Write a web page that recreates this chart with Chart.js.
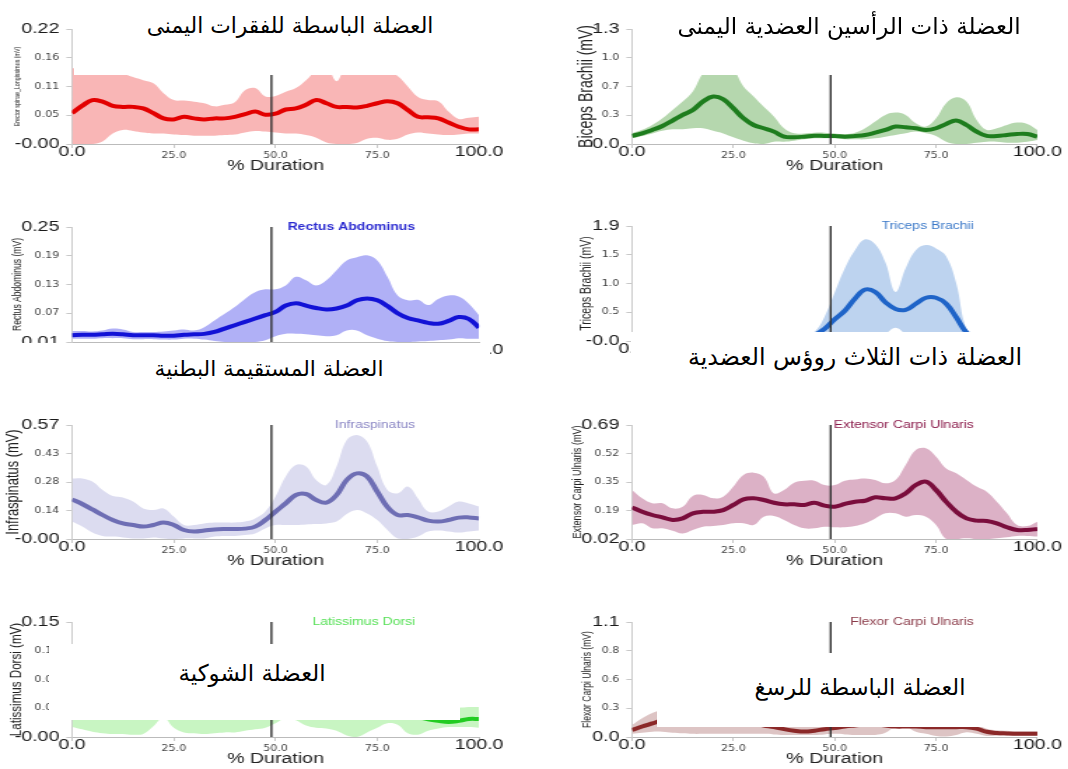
<!DOCTYPE html>
<html>
<head>
<meta charset="utf-8">
<script src="https://cdn.jsdelivr.net/npm/chart.js@4/dist/chart.umd.min.js"></script>
<style>
body{margin:0;background:#fff;width:1068px;height:769px;overflow:hidden;position:relative}
canvas{position:absolute;transform:scaleX(1.4);transform-origin:0 0}
.cover{position:absolute;background:#fff}
.cover span{position:absolute;transform:translate(-50%,-50%);white-space:nowrap;direction:rtl;
  font-family:"DejaVu Sans",sans-serif;font-size:22px;color:#000}
</style>
</head>
<body>
<canvas id="c1"></canvas><canvas id="c2"></canvas>
<canvas id="c3"></canvas><canvas id="c4"></canvas>
<canvas id="c5"></canvas><canvas id="c6"></canvas>
<canvas id="c7"></canvas><canvas id="c8"></canvas>

<div class="cover" style="left:74px;top:0;width:486px;height:75px"><span style="left:216px;top:25px;font-size:21.8px">العضلة الباسطة للفقرات اليمنى</span></div>
<div class="cover" style="left:633px;top:0;width:435px;height:75px"><span style="left:216px;top:26px;font-size:23px">العضلة ذات الرأسين العضدية اليمنى</span></div>
<div class="cover" style="left:0;top:343px;width:490px;height:57px"><span style="left:269px;top:25px;font-size:21.7px">العضلة المستقيمة البطنية</span></div>
<div class="cover" style="left:631px;top:332px;width:437px;height:68px"><span style="left:224px;top:25px;font-size:23.7px">العضلة ذات الثلاث روؤس العضدية</span></div>
<div class="cover" style="left:49px;top:644px;width:411px;height:76px"><span style="left:203px;top:29px;font-size:22.9px">العضلة الشوكية</span></div>
<div class="cover" style="left:657px;top:653px;width:405px;height:74px"><span style="left:203px;top:34px;font-size:22.5px">العضلة الباسطة للرسغ</span></div>

<script>
// % of movement duration
const pct = [0,2.5,5,7.5,10,12.5,15,17.5,20,22.5,25,27.5,30,32.5,35,37.5,40,42.5,45,47.5,50,52.5,55,57.5,60,62.5,65,67.5,70,72.5,75,77.5,80,82.5,85,87.5,90,92.5,95,97.5,100];
const markerPct = 49;
const xTicks = [0,25,50,75,100];
const xLabels = ['0.0','25.0','50.0','75.0','100.0'];

// erector spinae
const erectorMean  = [0.059,0.073,0.084,0.081,0.073,0.071,0.071,0.068,0.059,0.049,0.047,0.052,0.049,0.047,0.049,0.049,0.052,0.057,0.062,0.056,0.058,0.066,0.068,0.075,0.084,0.078,0.071,0.071,0.070,0.073,0.078,0.082,0.078,0.065,0.052,0.051,0.049,0.041,0.033,0.028,0.028];
const erectorUpper = [0.145,0.145,0.145,0.145,0.14,0.135,0.128,0.122,0.116,0.097,0.084,0.083,0.081,0.078,0.072,0.075,0.08,0.103,0.107,0.091,0.092,0.1,0.107,0.122,0.14,0.15,0.12,0.15,0.145,0.14,0.14,0.14,0.13,0.11,0.09,0.084,0.082,0.062,0.048,0.05,0.052];
const erectorLower = [0,0,0,0.005,0.02,0.027,0.025,0.022,0.02,0.02,0.018,0.017,0.016,0.016,0.016,0.017,0.018,0.022,0.025,0.024,0.022,0.02,0.02,0.017,0.012,0.003,0,0,0.002,0.01,0.012,0.008,0.01,0.018,0.022,0.02,0.018,0.017,0.018,0.02,0.02];
const erectorTicks = [0,0.055,0.11,0.165,0.22];
const erectorLabels = ['-0.00','0.05','0.11','0.16','0.22'];

// biceps brachii
const bicepsMean  = [0.091,0.121,0.159,0.204,0.265,0.329,0.385,0.48,0.537,0.506,0.404,0.291,0.215,0.178,0.14,0.083,0.076,0.083,0.094,0.091,0.091,0.083,0.091,0.102,0.128,0.159,0.197,0.189,0.178,0.159,0.178,0.227,0.265,0.215,0.14,0.091,0.091,0.102,0.113,0.113,0.083];
const bicepsUpper = [0.121,0.16,0.215,0.29,0.385,0.48,0.593,0.8,0.9,0.95,0.85,0.65,0.537,0.42,0.31,0.178,0.121,0.12,0.128,0.128,0.12,0.113,0.128,0.178,0.253,0.329,0.355,0.329,0.234,0.197,0.29,0.461,0.529,0.48,0.272,0.159,0.178,0.215,0.242,0.227,0.159];
const bicepsLower = [0.064,0.09,0.12,0.15,0.166,0.166,0.178,0.178,0.15,0.12,0.076,0.038,0.008,0,0.026,0.026,0.038,0.053,0.064,0.064,0.064,0.053,0.053,0.053,0.064,0.083,0.102,0.121,0.14,0.121,0.091,0.026,0,0,0.015,0.026,0.026,0.015,0.015,0.026,0.045];
const bicepsTicks = [0,0.325,0.65,0.975,1.3];
const bicepsLabels = ['0.0','0.3','0.7','1.0','1.3'];

// rectus abdominus
const rectusMean  = [0.024,0.025,0.025,0.026,0.027,0.026,0.024,0.024,0.024,0.023,0.023,0.025,0.026,0.027,0.031,0.038,0.045,0.052,0.059,0.066,0.073,0.086,0.091,0.086,0.081,0.078,0.080,0.086,0.097,0.101,0.097,0.085,0.070,0.060,0.055,0.050,0.048,0.054,0.062,0.058,0.040];
const rectusUpper = [0.033,0.033,0.032,0.034,0.038,0.036,0.031,0.031,0.031,0.032,0.034,0.036,0.034,0.041,0.055,0.069,0.083,0.1,0.114,0.12,0.12,0.128,0.146,0.139,0.128,0.139,0.16,0.18,0.187,0.191,0.18,0.146,0.107,0.097,0.098,0.087,0.1,0.107,0.105,0.09,0.066];
const rectusLower = [0.017,0.017,0.017,0.018,0.018,0.018,0.016,0.016,0.016,0.015,0.015,0.017,0.017,0.015,0.012,0.01,0.01,0.01,0.01,0.0135,0.022,0.027,0.027,0.026,0.024,0.022,0.024,0.034,0.034,0.024,0.017,0.012,0.01,0.01,0.011,0.012,0.0135,0.015,0.018,0.017,0.017];
const rectusTicks = [0.01,0.07,0.13,0.19,0.25];
const rectusLabels = ['0.01','0.07','0.13','0.19','0.25'];

// triceps brachii
const tricepsMean  = [0.02,0.02,0.02,0.02,0.02,0.02,0.02,0.02,0.02,0.02,0.02,0.02,0.02,0.02,0.02,0.02,0.03,0.05,0.1,0.2,0.36,0.5,0.7,0.85,0.81,0.64,0.53,0.515,0.615,0.715,0.715,0.615,0.39,0.144,0.04,0.02,0.02,0.02,0.02,0.02,0.02];
const tricepsUpper = [0.08,0.08,0.08,0.08,0.08,0.08,0.08,0.08,0.08,0.08,0.08,0.08,0.08,0.08,0.08,0.08,0.08,0.1,0.15,0.4,0.8,1.2,1.5,1.68,1.6,1.3,0.81,1.2,1.5,1.585,1.53,1.4,0.95,0.2,0.1,0.08,0.08,0.08,0.08,0.08,0.08];
const tricepsLower = [0,0,0,0,0,0,0,0,0,0,0,0,0,0,0,0,0,0,0,0,0,0,0,0,0.05,0.12,0.22,0.12,0.04,0,0,0,0,0,0,0,0,0,0,0,0];
const tricepsTicks = [0,0.475,0.95,1.425,1.9];
const tricepsLabels = ['-0.0','0.5','1.0','1.5','1.9'];

// infraspinatus
const infraMean  = [0.198,0.175,0.148,0.12,0.095,0.078,0.07,0.062,0.07,0.082,0.07,0.045,0.037,0.042,0.048,0.05,0.05,0.052,0.062,0.095,0.137,0.178,0.22,0.225,0.195,0.182,0.22,0.295,0.328,0.312,0.237,0.16,0.12,0.12,0.108,0.092,0.087,0.095,0.107,0.108,0.103];
const infraUpper = [0.303,0.303,0.287,0.245,0.215,0.208,0.187,0.153,0.145,0.153,0.112,0.07,0.07,0.078,0.082,0.082,0.082,0.087,0.103,0.137,0.212,0.312,0.37,0.362,0.295,0.27,0.362,0.495,0.52,0.487,0.362,0.245,0.228,0.262,0.203,0.137,0.137,0.162,0.187,0.178,0.162];
const infraLower = [0.087,0.062,0.032,0.015,0.012,0.008,0.003,0.003,0.008,0.003,0,0.003,0.003,0.003,0.012,0.015,0.015,0.02,0.028,0.053,0.07,0.07,0.07,0.073,0.075,0.078,0.087,0.125,0.145,0.128,0.095,0.045,0.003,0,0.012,0.037,0.042,0.037,0.032,0.037,0.042];
const infraTicks = [0,0.1425,0.285,0.4275,0.57];
const infraLabels = ['-0.00','0.14','0.28','0.43','0.57'];

// extensor carpi ulnaris
const extensorMean  = [0.206,0.18,0.161,0.147,0.132,0.141,0.171,0.18,0.18,0.19,0.22,0.253,0.259,0.249,0.233,0.224,0.224,0.22,0.233,0.216,0.21,0.226,0.239,0.245,0.265,0.259,0.259,0.288,0.337,0.357,0.308,0.239,0.18,0.141,0.128,0.126,0.112,0.089,0.073,0.073,0.079];
const extensorUpper = [0.308,0.259,0.23,0.23,0.2,0.21,0.273,0.279,0.259,0.269,0.328,0.396,0.41,0.386,0.288,0.308,0.351,0.363,0.363,0.337,0.337,0.363,0.37,0.376,0.367,0.347,0.367,0.455,0.543,0.553,0.504,0.435,0.406,0.367,0.328,0.298,0.239,0.171,0.102,0.096,0.122];
const extensorLower = [0.102,0.112,0.083,0.083,0.069,0.053,0.073,0.092,0.096,0.102,0.112,0.112,0.102,0.151,0.155,0.132,0.102,0.083,0.083,0.092,0.089,0.089,0.096,0.112,0.141,0.171,0.171,0.151,0.161,0.151,0.102,0.02,0.02,0.025,0.02,0.02,0.025,0.03,0.038,0.038,0.034];
const extensorTicks = [0.02,0.1875,0.355,0.5225,0.69];
const extensorLabels = ['0.02','0.19','0.35','0.52','0.69'];

// latissimus dorsi
const latMean  = [0.04,0.042,0.044,0.043,0.04,0.038,0.037,0.038,0.042,0.045,0.04,0.036,0.034,0.035,0.036,0.037,0.038,0.039,0.04,0.04,0.042,0.045,0.044,0.04,0.038,0.036,0.034,0.033,0.032,0.033,0.034,0.033,0.031,0.029,0.026,0.023,0.021,0.0196,0.021,0.0235,0.0235];
const latUpper = [0.065,0.066,0.068,0.066,0.062,0.06,0.058,0.06,0.062,0.066,0.062,0.058,0.056,0.056,0.058,0.06,0.061,0.062,0.063,0.063,0.065,0.068,0.067,0.063,0.06,0.058,0.056,0.055,0.054,0.055,0.056,0.055,0.053,0.05,0.047,0.044,0.04,0.038,0.038,0.039,0.039];
const latLower = [0.013,0.01,0.007,0.005,0.004,0.004,0.003,0.004,0.014,0.025,0.012,0.006,0.005,0.004,0.005,0.006,0.006,0.008,0.01,0.012,0.018,0.024,0.022,0.015,0.012,0.011,0.008,0.002,0,0.006,0.012,0.018,0.016,0.005,0.003,0.008,0.011,0.013,0.013,0.013,0.012];
const latTicks = [0,0.0375,0.075,0.1125,0.15];
const latLabels = ['-0.00','0.04','0.08','0.11','0.15'];

// flexor carpi ulnaris
const flexorMean  = [0.067,0.1,0.13,0.16,0.18,0.2,0.21,0.2,0.19,0.18,0.17,0.15,0.13,0.11,0.095,0.075,0.06,0.052,0.06,0.075,0.085,0.1,0.11,0.12,0.12,0.11,0.1,0.1,0.1,0.094,0.094,0.094,0.094,0.094,0.08,0.05,0.038,0.034,0.031,0.03,0.03];
const flexorUpper = [0.115,0.18,0.23,0.26,0.28,0.3,0.31,0.3,0.29,0.28,0.26,0.24,0.22,0.19,0.16,0.13,0.11,0.1,0.11,0.13,0.15,0.17,0.2,0.22,0.21,0.18,0.16,0.15,0.15,0.15,0.15,0.15,0.15,0.14,0.12,0.08,0.065,0.06,0.055,0.055,0.055];
const flexorLower = [0.03,0.04,0.05,0.05,0.04,0.035,0.03,0.03,0.03,0.03,0.03,0.03,0.03,0.03,0.025,0.02,0.02,0.02,0.02,0.025,0.03,0.025,0.02,0.02,0.02,0.04,0.1,0.1,0.05,0.03,0.01,0.005,0.02,0.045,0.03,0.01,0.012,0.015,0.015,0.015,0.015];
const flexorTicks = [0,0.275,0.55,0.825,1.1];
const flexorLabels = ['0.0','0.3','0.6','0.8','1.1'];

Chart.defaults.font.family = "'Liberation Sans', Arial, sans-serif";
const S = 1.4; // the figure is stretched horizontally
const SANS = "'Liberation Sans', Arial, sans-serif";

const panels = [
  {id:'c1', col:0, top:29,  bottom:144, mean:erectorMean,  upper:erectorUpper,  lower:erectorLower,  ticks:erectorTicks,  labels:erectorLabels,
   line:'#e30000', band:'#f9b6b6', yTitle:'Erector spinae_Longissimus (mV)', yTitleSize:5.3, yTitleX:18},
  {id:'c2', col:1, top:29,  bottom:144, mean:bicepsMean,   upper:bicepsUpper,   lower:bicepsLower,   ticks:bicepsTicks,   labels:bicepsLabels,
   line:'#1e7d1e', band:'#b5d7ae', yTitle:'Biceps Brachii (mV)', yTitleSize:14, yTitleX:27},
  {id:'c3', col:0, top:227, bottom:342, mean:rectusMean,   upper:rectusUpper,   lower:rectusLower,   ticks:rectusTicks,   labels:rectusLabels,
   line:'#1212d6', band:'#b0b0f6', yTitle:'Rectus Abdominus (mV)', yTitleSize:8.6, yTitleX:17,
   name:'Rectus Abdominus', nameColor:'#2a2ad0', nameWeight:'bold'},
  {id:'c4', col:1, top:226, bottom:341, mean:tricepsMean,  upper:tricepsUpper,  lower:tricepsLower,  ticks:tricepsTicks,  labels:tricepsLabels,
   line:'#1f64c8', band:'#bdd3ef', yTitle:'Triceps Brachii (mV)', yTitleSize:10.5, yTitleX:27,
   name:'Triceps Brachii', nameColor:'#3a78c8', nameWeight:'normal'},
  {id:'c5', col:0, top:425, bottom:539, mean:infraMean,    upper:infraUpper,    lower:infraLower,    ticks:infraTicks,    labels:infraLabels,
   line:'#6e6eb4', band:'#dcdcf0', yTitle:'Infraspinatus (mV)', yTitleSize:12.9, yTitleX:13,
   name:'Infraspinatus', nameColor:'#8a86c4', nameWeight:'normal'},
  {id:'c6', col:1, top:425, bottom:539, mean:extensorMean, upper:extensorUpper, lower:extensorLower, ticks:extensorTicks, labels:extensorLabels,
   line:'#7a0d3c', band:'#dcb1c6', yTitle:'Extensor Carpi Ulnaris (mV)', yTitleSize:9.1, yTitleX:18,
   name:'Extensor Carpi Ulnaris', nameColor:'#8a1a4a', nameWeight:'normal'},
  {id:'c7', col:0, top:622, bottom:737, mean:latMean,      upper:latUpper,      lower:latLower,      ticks:latTicks,      labels:latLabels,
   line:'#22cc22', band:'#c8f5c2', yTitle:'Latissimus Dorsi (mV)', yTitleSize:11.6, yTitleX:16,
   name:'Latissimus Dorsi', nameColor:'#55e055', nameWeight:'normal'},
  {id:'c8', col:1, top:622, bottom:737, mean:flexorMean,   upper:flexorUpper,   lower:flexorLower,   ticks:flexorTicks,   labels:flexorLabels,
   line:'#8b2828', band:'#ddc4c4', yTitle:'Flexor Carpi Ulnaris (mV)', yTitleSize:8.6, yTitleX:27,
   name:'Flexor Carpi Ulnaris', nameColor:'#8a3a48', nameWeight:'normal'}
];

// muscle name written at the top of the plot
const muscleLabel = {
  id: 'muscleLabel',
  afterDatasetsDraw(chart, args, opts) {
    if (!opts.text) return;
    const {ctx, chartArea, scales} = chart;
    ctx.save();
    ctx.font = opts.weight + ' 10px ' + SANS;
    ctx.fillStyle = opts.color;
    ctx.textAlign = 'right';
    ctx.textBaseline = 'middle';
    ctx.fillText(opts.text, scales.x.getPixelForValue(84.3), chartArea.top);
    ctx.restore();
  }
};

function pts(arr) { return pct.map((x, i) => ({x: x, y: arr[i]})); }
const isEnd = c => c.index === 0 || c.index === 4;
const tickFont = c => isEnd(c) ? {size: 14, family: SANS} : {size: 8, family: "'DejaVu Sans', sans-serif"};
const tickColor = c => isEnd(c) ? '#1a1a1a' : '#444';

panels.forEach(p => {
  const cl = p.col ? 560 : 0, cw = p.col ? 363 : 386;
  const cv = document.getElementById(p.id);
  cv.width = cw;
  cv.height = p.bottom - p.top + 54;
  cv.style.left = cl + 'px';
  cv.style.top = (p.top - 20) + 'px';
  const yMin = p.ticks[0], yMax = p.ticks[4];
  const lh = p.yTitleSize * 1.2;

  new Chart(cv, {
    type: 'line',
    data: {
      datasets: [
        {data: [{x: markerPct, y: yMin}, {x: markerPct, y: yMax}], borderColor: '#333', borderWidth: 1.4, pointRadius: 0, fill: false},
        {data: pts(p.mean), borderColor: p.line, borderWidth: 4, pointRadius: 0, tension: 0.4, fill: false},
        {data: pts(p.upper), borderColor: 'transparent', borderWidth: 0, pointRadius: 0, tension: 0.4, backgroundColor: p.band, fill: '+1'},
        {data: pts(p.lower), borderColor: 'transparent', borderWidth: 0, pointRadius: 0, tension: 0.4, fill: false}
      ]
    },
    options: {
      responsive: false,
      animation: false,
      events: [],
      layout: {padding: {left: 0, right: cw - 479 / S, top: 20, bottom: 2}},
      plugins: {
        legend: {display: false},
        tooltip: {enabled: false},
        muscleLabel: {text: p.name, color: p.nameColor, weight: p.nameWeight}
      },
      scales: {
        x: {
          type: 'linear', min: 0, max: 100,
          afterBuildTicks: s => { s.ticks = xTicks.map(v => ({value: v})); },
          afterFit: s => { s.height = 32; },
          ticks: {callback: (v, i) => xLabels[i], font: tickFont, color: tickColor, padding: 4.5,
                  crossAlign: 'center', maxRotation: 0, autoSkip: false},
          grid: {drawOnChartArea: false, tickLength: 4, color: '#c8c8c8'},
          border: {color: '#bbbbbb'},
          title: {display: true, text: '% Duration', color: '#222', font: {size: 14}, padding: {top: 0, bottom: 1}}
        },
        y: {
          min: yMin, max: yMax,
          afterBuildTicks: s => { s.ticks = p.ticks.map(v => ({value: v})); },
          afterFit: s => { s.width = 72 / S; },
          ticks: {callback: (v, i) => p.labels[i], font: tickFont, color: tickColor, padding: 5},
          grid: {drawOnChartArea: false, tickLength: 4, color: '#c8c8c8'},
          border: {color: '#cccccc'},
          title: {display: true, text: p.yTitle, color: '#222', font: {size: p.yTitleSize},
                  padding: {top: p.yTitleX / S - lh / 2, bottom: 0}}
        }
      }
    },
    plugins: [muscleLabel]
  });
});
</script>
</body>
</html>
